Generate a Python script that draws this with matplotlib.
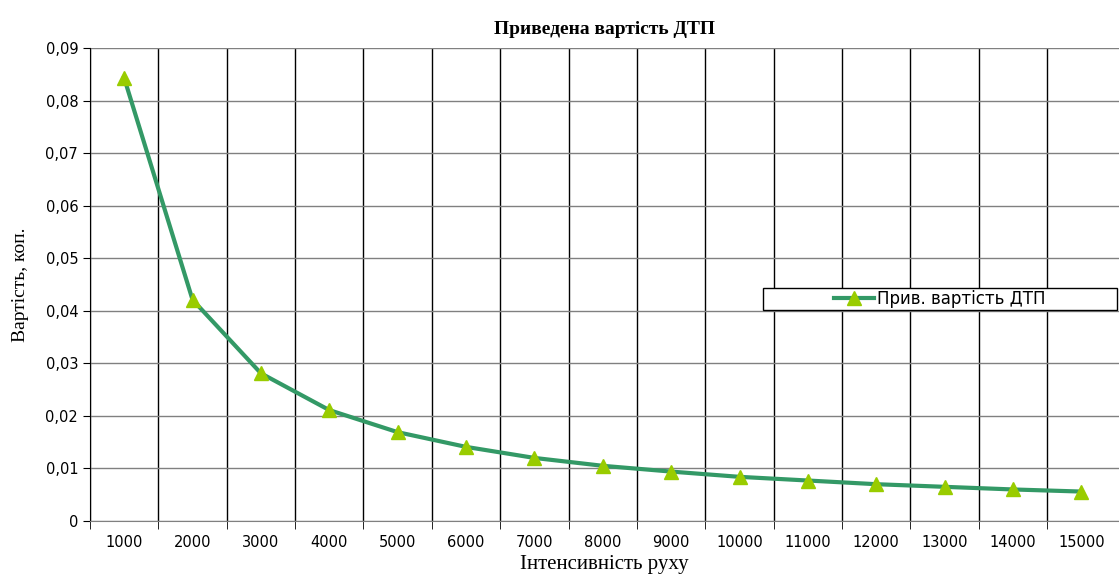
import numpy as np
import matplotlib.pyplot as plt
from matplotlib.patches import Rectangle

# інтенсивність руху та приведена вартість ДТП
intensity = [1000, 2000, 3000, 4000, 5000, 6000, 7000, 8000,
             9000, 10000, 11000, 12000, 13000, 14000, 15000]
cost = [0.0843, 0.0421, 0.0281, 0.0211, 0.0169, 0.0141, 0.0120, 0.0105,
        0.0094, 0.0084, 0.0077, 0.0070, 0.0065, 0.0060, 0.0056]
y_ticks = [0, 0.01, 0.02, 0.03, 0.04, 0.05, 0.06, 0.07, 0.08, 0.09]

plt.rcParams['font.family'] = ['DejaVu Sans']
serif = ['Liberation Serif', 'DejaVu Serif']

fig = plt.figure(figsize=(11.19, 5.76), dpi=100)
ax = fig.add_axes([0.0804, 0.0955, 0.9196, 0.8212])

x = np.arange(len(intensity))
ax.plot(x, cost, color='#339966', lw=3, marker='^', markersize=10,
        markerfacecolor='#99CC00', markeredgecolor='#99CC00',
        label='Прив. вартість ДТП', zorder=3)

ax.set_xlim(-0.5, len(intensity) - 0.45)
ax.set_ylim(0, 0.09)

# підписи по центру категорій, риски та сітка — на межах
ax.set_xticks(x)
ax.set_xticklabels([str(v) for v in intensity], fontsize=10.5)
ax.tick_params(axis='x', which='major', length=0, pad=10)
ax.set_xticks(np.arange(len(intensity)) - 0.5, minor=True)
ax.tick_params(axis='x', which='minor', length=6, color='black', direction='out')
ax.grid(True, axis='x', which='minor', color='black', lw=1)

ax.set_yticks(y_ticks)
ax.set_yticklabels([f'{v:.2f}'.replace('.', ',') if v else '0' for v in y_ticks],
                   fontsize=10.5)
ax.tick_params(axis='y', length=5, color='black', direction='out')
ax.grid(True, axis='y', color='#808080', lw=1)
ax.set_axisbelow(True)

for s in ['top', 'right']:
    ax.spines[s].set_visible(False)
ax.spines['left'].set_color('black')
ax.spines['bottom'].set_color('#808080')

ax.set_title('Приведена вартість ДТП', family=serif, fontsize=14,
             fontweight='bold', pad=10)
ax.set_xlabel('Інтенсивність руху', family=serif, fontsize=15, labelpad=4)
ax.set_ylabel('Вартість, коп.', family=serif, fontsize=14, labelpad=12)

# рамка легенди
ax.add_patch(Rectangle((0.654, 0.446), 0.344, 0.047, transform=ax.transAxes,
                       facecolor='white', edgecolor='black', lw=1,
                       zorder=4, clip_on=False))
leg = ax.legend(loc='center', bbox_to_anchor=(0.826, 0.4695), frameon=False,
                fontsize=12, handlelength=2.4, handletextpad=0.15,
                borderpad=0.1)
leg.set_zorder(5)

fig.savefig('out.png', dpi=100)
